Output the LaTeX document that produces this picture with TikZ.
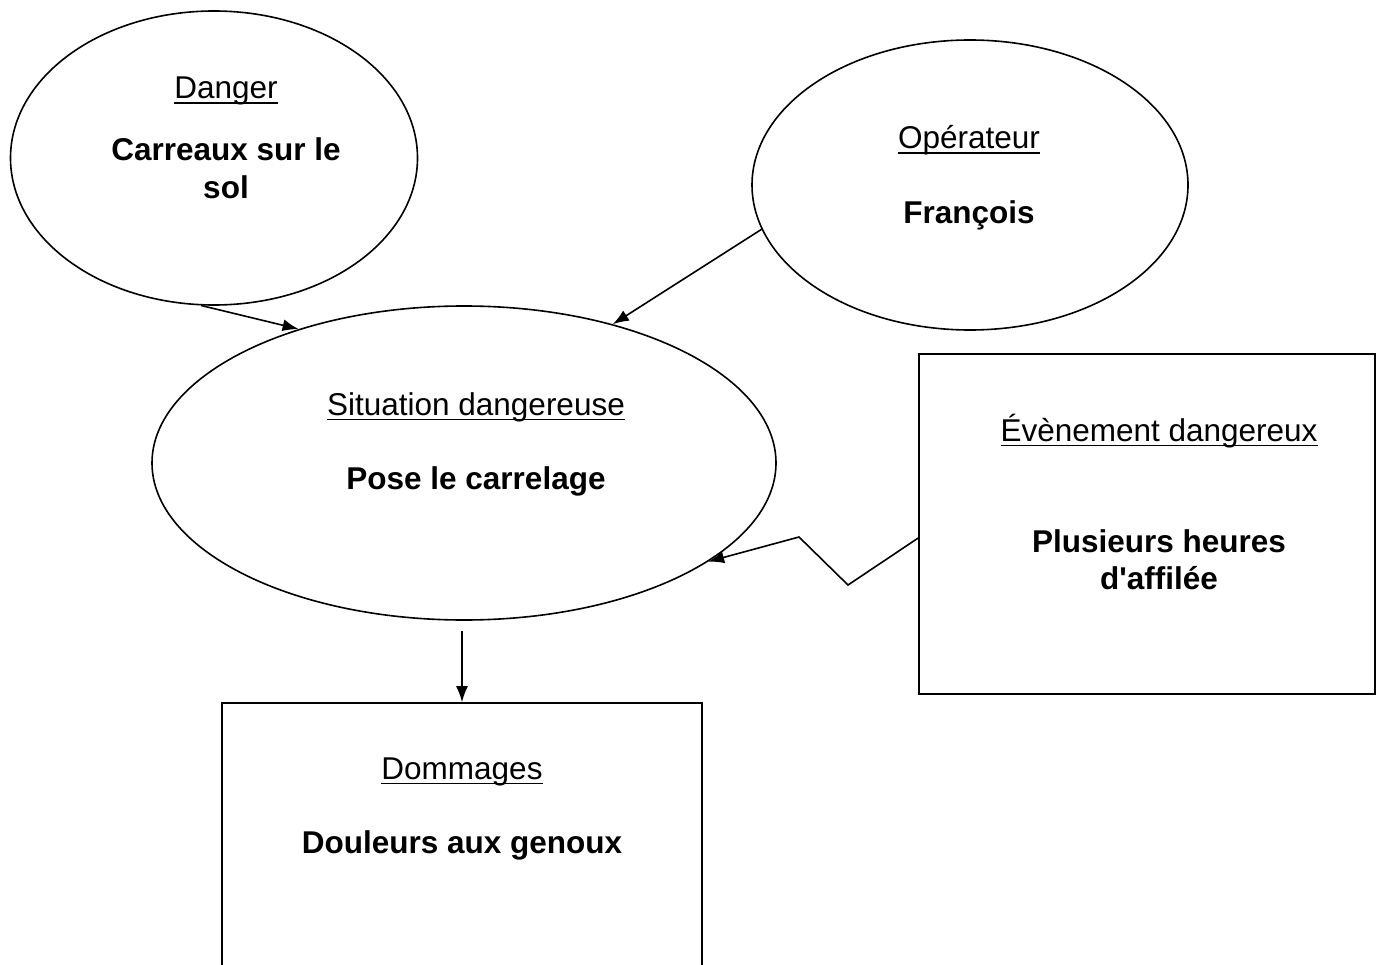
\documentclass[tikz,border=0pt]{standalone}
\usepackage{fontspec}
\setmainfont{Liberation Sans}
\usetikzlibrary{shapes.geometric,arrows.meta,calc}
\newcommand\ttl[1]{\leavevmode\setbox0\hbox{#1}\rlap{\rule[-5pt]{\wd0}{1.5pt}}\box0}
\begin{document}
\begin{tikzpicture}[x=1pt,y=-1pt,
  shapeline/.style={draw, line width=1.6pt},
  oval/.style={shapeline, ellipse, inner sep=0pt},
  boxx/.style={shapeline, rectangle, inner sep=0pt},
  ttltext/.style={anchor=base, inner sep=0pt, font=\fontsize{31.5}{38}\selectfont},
  bodytext/.style={anchor=base, inner sep=0pt, font=\fontsize{31.5}{38}\selectfont\bfseries},
  arr/.style={line width=1.6pt, -{Latex[length=16pt,width=12pt]}}]
\clip (0,0) rectangle (1380,965);
\fill[white] (0,0) rectangle (1380,965);

% shapes
\node[oval, minimum width=407pt, minimum height=294pt] (danger) at (214,158) {};
\node[oval, minimum width=436pt, minimum height=290pt] (oper) at (970,185) {};
\node[oval, minimum width=624pt, minimum height=314pt] (sit) at (464,463) {};
\node[boxx, minimum width=456pt, minimum height=340pt] (evt) at (1147,524) {};
\node[boxx, minimum width=480pt, minimum height=400pt] (dom) at (462,903) {};

% texts
\node[ttltext] (dangerT) at (226,99) {\ttl{Danger}};
\node[bodytext] (dangerA) at (226,161) {Carreaux sur le};
\node[bodytext] (dangerB) at (226,199) {sol};

\node[ttltext] (operT) at (969,149) {\ttl{Opérateur}};
\node[bodytext] (operA) at (969,224) {François};

\node[ttltext] (sitT) at (476,415) {\ttl{Situation dangereuse}};
\node[bodytext] (sitA) at (476,489) {Pose le carrelage};

\node[ttltext] (evtT) at (1159,441) {\ttl{Évènement dangereux}};
\node[bodytext] (evtA) at (1159,552) {Plusieurs heures};
\node[bodytext] (evtB) at (1159,589) {d\textquotesingle affilée};

\node[ttltext] (domT) at (462,779) {\ttl{Dommages}};
\node[bodytext] (domA) at (462,853) {Douleurs aux genoux};

% connectors
\draw[arr] (danger.265) -- (sit.141);
\draw[arr] (oper.192) -- (sit.43);
\coordinate (z1) at (848,585);
\coordinate (z2) at (799,537);
\draw[arr] ($(evt.west)+(0,14)$) -- (z1) -- (z2) -- (sit.-22.7);
\draw[arr, shorten <=10pt] (sit.south -| dom.north) -- (dom.north);
\end{tikzpicture}
\end{document}
